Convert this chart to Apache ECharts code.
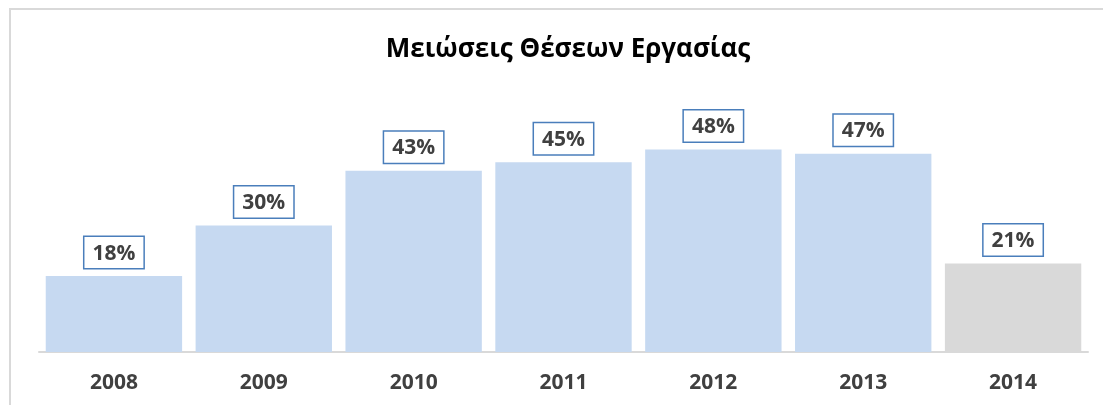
<!DOCTYPE html>
<html>
<head>
<meta charset="utf-8">
<script src="https://cdn.jsdelivr.net/npm/echarts@6/dist/echarts.min.js"></script>
<style>
    html, body { margin: 0; padding: 0; background: #fff; }
    #frame {
        position: absolute; left: 9px; top: 8px; width: 1200px; height: 500px;
        border-top: 2px solid #d9d9d9; border-left: 2px solid #d9d9d9;
    }
    #chart-panel { position: absolute; left: 0; top: 0; width: 1103px; height: 405px; }
</style>
</head>
<body>
<div id="frame"></div>
<div id="chart-panel"></div>
<script>
var years = ['2008', '2009', '2010', '2011', '2012', '2013', '2014'];
var values = [18, 30, 43, 45, 48, 47, 21];
var barColors = ['#c6d9f1', '#c6d9f1', '#c6d9f1', '#c6d9f1', '#c6d9f1', '#c6d9f1', '#d9d9d9'];

var fontName = '"Open Sans", "Noto Sans", sans-serif';

var seriesData = values.map(function (v, i) {
    return { value: v, itemStyle: { color: barColors[i] } };
});

var option = {
    animation: false,
    title: {
        text: 'Μειώσεις Θέσεων Εργασίας',
        left: 563,
        textAlign: 'center',
        top: 32,
        textStyle: { fontFamily: fontName, fontSize: 26, fontWeight: 'bold', color: '#000' }
    },
    grid: { left: 39, right: 15, top: 99, bottom: 53 },
    xAxis: {
        type: 'category',
        data: years,
        axisLine: { lineStyle: { color: '#d9d9d9', width: 2 } },
        axisTick: { show: false },
        axisLabel: {
            margin: 21,
            fontFamily: fontName, fontSize: 21, fontWeight: 'bold', color: '#404040'
        }
    },
    yAxis: {
        type: 'value',
        min: 0,
        max: 60,
        show: false,
        splitLine: { show: false }
    },
    series: [{
        type: 'bar',
        data: seriesData,
        barCategoryGap: '9%',
        label: {
            show: true,
            position: 'top',
            distance: 8,
            formatter: '{c}%',
            fontFamily: fontName, fontSize: 21, fontWeight: 'bold', color: '#404040',
            backgroundColor: '#fff',
            borderColor: '#4a7ebb',
            borderWidth: 1.5,
            padding: [6, 8, 4, 8]
        }
    }]
};

var myChart = echarts.init(document.getElementById('chart-panel'));
myChart.setOption(option);
</script>
</body>
</html>
